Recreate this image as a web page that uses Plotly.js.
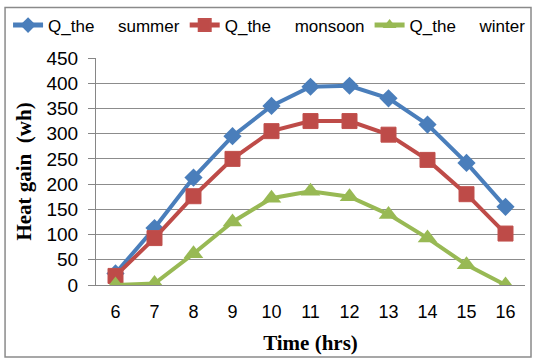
<!DOCTYPE html>
<html><head><meta charset="utf-8">
<script src="https://cdn.plot.ly/plotly-3.0.1.min.js"></script>
<style>html,body{margin:0;padding:0;background:#fff}#c{width:533px;height:360px}</style>
</head><body><div id="c"></div>
<script>
const hours = ['6','7','8','9','10','11','12','13','14','15','16'];
const summer = [23, 113, 213, 295, 355, 393, 395, 370, 318, 242, 155];
const monsoon = [18, 93, 176, 250, 305, 325, 325, 298, 248, 180, 102];
const winter = [0, 3, 62, 125, 172, 186, 175, 140, 93, 40, 0];
const names = ['Q_the\u00a0\u00a0\u00a0\u00a0\u00a0summer', 'Q_the\u00a0\u00a0\u00a0\u00a0\u00a0monsoon', 'Q_the\u00a0\u00a0\u00a0\u00a0\u00a0winter'];
const yTicks = [0,50,100,150,200,250,300,350,400,450];

const traces = [
  {x: hours, y: summer, name: names[0], mode: 'lines+markers', type: 'scatter',
   line: {color: '#4a7ebb', width: 4}, marker: {symbol: 'diamond', size: 14, color: '#4a7ebb'}},
  {x: hours, y: monsoon, name: names[1], mode: 'lines+markers', type: 'scatter',
   line: {color: '#be4b48', width: 4}, marker: {symbol: 'square', size: 15, color: '#be4b48', line: {color: '#c0504d', width: 1}}},
  {x: hours, y: winter, name: names[2], mode: 'lines+markers', type: 'scatter',
   line: {color: '#98b954', width: 4}, marker: {symbol: 'triangle-up', size: 17, color: '#98b954'}}
];

const layout = {
  width: 533, height: 360,
  margin: {l: 96, r: 8, t: 55, b: 75},
  paper_bgcolor: '#fff', plot_bgcolor: '#fff',
  showlegend: true,
  legend: {orientation: 'h', x: -0.205, y: 1.143, xanchor: 'left', yanchor: 'middle',
           font: {family: 'Liberation Sans, Arial', size: 17, color: '#000'},
           itemsizing: 'constant', tracegroupgap: 0, bgcolor: 'rgba(0,0,0,0)'},
  xaxis: {type: 'category', range: [-0.5, 10.5], showgrid: false, showline: true, linecolor: '#868686', linewidth: 1,
          ticks: '', tickfont: {family: 'Liberation Sans, Arial', size: 18, color: '#000'},
          ticklabelstandoff: 10, zeroline: false,
          title: {text: 'Time (hrs)', font: {family: 'Liberation Serif, Times New Roman', size: 21, color: '#000', weight: 'bold'}, standoff: 14}},
  yaxis: {range: [0, 450], tickvals: yTicks, ticktext: yTicks.map(String), showgrid: true, gridcolor: '#8c8c8c', gridwidth: 1,
          showline: true, linecolor: '#868686', linewidth: 1, ticks: 'outside', ticklen: 7, tickcolor: '#868686',
          tickfont: {family: 'Liberation Sans, Arial', size: 19, color: '#000'}, ticklabelstandoff: 6, zeroline: false,
          title: {text: 'Heat gain\u00a0\u00a0(wh)', font: {family: 'Liberation Serif, Times New Roman', size: 21, color: '#000', weight: 'bold'}, standoff: 9}},
  shapes: [{type: 'rect', xref: 'paper', yref: 'paper', x0: -0.212, x1: 1.014, y0: -0.317, y1: 1.222,
            line: {color: '#8a8a8a', width: 1.5}, fillcolor: 'rgba(0,0,0,0)', layer: 'below'}]
};
Plotly.newPlot('c', traces, layout, {displayModeBar: false, staticPlot: true});
</script></body></html>
